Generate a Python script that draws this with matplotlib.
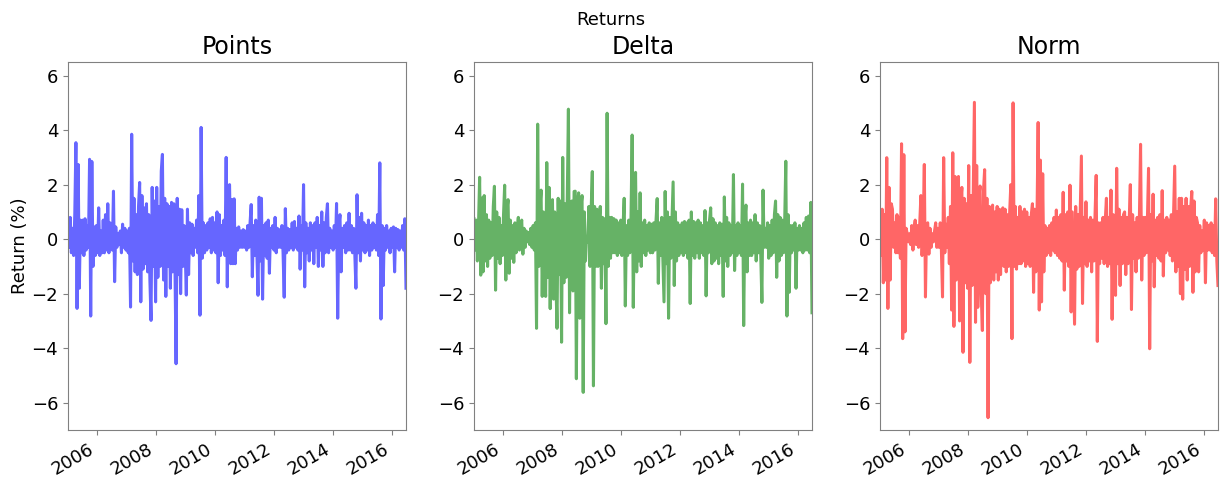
import numpy as np
import pandas as pd
import matplotlib
matplotlib.use('Agg')
import matplotlib.pyplot as plt
import matplotlib.dates as mdates

# returns (%) sampled roughly every two weeks, Jan 2005 - Jun 2016
points = [
    0.35, -0.3, 0.8, -0.5, 0.4, -0.6, 0.9, 3.54, -2.54, 2.74, -1.8, 0.7, -0.5,
    0.7, -0.6, 0.75, -0.4, 0.5, -0.3, 2.93, -2.82, 2.85, -1.0, 0.45, -0.6, 0.5,
    -0.5, 1.15, -0.6, 0.3, -0.5, 0.7, -0.5, 0.9, -0.4, 1.3, -0.5, 0.6, -0.3,
    -0.4, 1.76, -1.56, 0.45, -0.3, 0.2, -0.2, 0.3, -0.5, 0.55, -0.3, 0.4, -0.4,
    0.3, -0.5, 0.4, -2.49, 3.85, -0.8, 1.5, -1.2, 0.9, -1.3, 1.2, 2.08, -2.3,
    1.6, -1.1, 1.15, -0.9, 1.3, -1.2, 0.9, -1.5, -2.98, 1.9, -1.0, 1.4, -2.3,
    1.9, -1.4, 1.2, -1.0, 2.5, 3.11, -1.5, 1.5, -2.1, 1.3, -1.0, 1.2, -1.8,
    1.35, -1.2, 1.3, -0.9, -4.57, 1.5, -1.3, 1.1, -2.0, 1.08, -1.0, 0.5, -0.4,
    -2.05, 1.1, -1.3, 0.6, -0.5, 0.55, -0.6, 0.4, -0.3, 0.7, -0.5, 1.6, -2.79,
    4.1, -0.7, 0.6, -0.5, 0.5, -0.4, 0.6, -0.3, 0.75, -0.5, 0.8, -0.4, 0.6,
    -0.5, 1.0, -1.6, 0.9, -0.6, 0.5, -0.4, 0.7, -0.6, 3.0, -1.75, 1.9, 2.0,
    -0.9, 1.45, -0.9, 1.48, -0.9, 0.4, -0.4, 0.45, -0.3, 0.3, -0.3, 0.35, -0.3,
    0.3, -0.4, 0.5, -0.3, 0.6, 1.27, -1.38, 0.5, -0.6, 0.7, -0.5, -2.06, 1.54,
    -0.8, 1.5, -2.2, 0.5, -0.6, 0.6, -0.7, 0.7, -1.25, 0.4, -0.3, 0.5, -0.4,
    0.8, -0.5, 0.4, -0.3, 0.35, -0.3, 0.5, -0.5, -2.13, 1.12, -0.5, 0.4, -0.4,
    0.35, -0.3, 0.6, -0.4, 0.65, -0.3, 0.4, -0.4, 0.85, -1.1, 0.5, -0.4, 2.0,
    -1.75, 0.6, -0.5, 0.4, -0.8, 0.6, -0.4, 0.5, -0.9, 0.6, -0.3, 0.8, -1.0,
    0.5, -0.4, 1.0, -1.0, 0.6, -0.5, 0.8, 1.3, -0.5, 0.4, -0.3, 0.3, -0.4,
    0.5, -0.3, 1.31, -2.9, 0.5, 0.9, -1.2, 0.4, -0.3, 0.5, -0.5, 0.6, -0.4,
    0.95, -0.4, 0.5, -0.5, 0.4, -0.5, -1.8, 1.63, -0.5, 0.8, -0.8, 0.95, -0.4,
    0.6, -0.5, 0.5, -0.4, 0.7, -0.6, 0.5, -0.4, 0.6, -0.3, 0.5, -0.4, 0.9,
    -0.6, 2.8, -2.93, 0.5, -1.7, 0.4, -0.4, 0.5, -0.3, 0.3, -0.5, 0.4, -0.3,
    0.45, -1.2, 0.4, -0.3, 0.35, -0.4, 0.3, -0.3, 0.5, -0.4, 0.75, -1.8,
]

delta = [
    0.75, -0.4, 0.7, -0.8, 0.5, 2.27, -1.32, 1.51, -1.2, 1.6, -0.8, 0.9, -1.0,
    0.7, -0.7, 0.6, -0.6, 1.2, 1.94, -1.87, 1.0, -0.7, 0.8, -0.9, 0.5, -0.6,
    0.9, 1.98, -1.5, 1.1, 1.45, -1.25, 0.7, -0.7, 0.5, -0.85, 0.6, -0.5, 0.4,
    0.8, -0.4, 0.5, 0.7, -0.55, 0.4, -0.3, 0.3, -0.1, 0.25, -0.2, 0.4, -0.3,
    0.5, -0.4, 0.6, -3.27, 4.22, -1.0, 1.2, 1.8, -2.1, 1.0, -1.2, -2.1, 2.81,
    -1.4, 1.9, -2.55, 1.2, 1.45, -2.2, 1.0, -1.5, -3.27, 1.5, -1.3, 1.4, -3.78,
    3.0, -1.6, 1.3, -1.4, 1.5, 4.77, -2.7, 1.3, 1.4, -1.9, 1.75, 1.76, -5.12,
    1.3, 1.7, -2.9, 1.2, 1.6, -5.62, 1.0, -0.8, 0.1, -0.1, 1.2, -1.0, 1.1,
    2.48, -5.38, 1.2, -1.0, 1.1, -1.0, 0.8, 1.2, -1.8, 0.8, -0.9, 0.75, -3.1,
    4.62, -1.0, 0.8, -0.7, 0.8, -0.5, 0.75, -0.5, 0.7, -0.6, 0.6, -0.5, 0.7,
    -0.6, 0.5, 1.5, -2.45, 0.5, -0.6, 0.7, -0.5, 0.8, 3.82, -2.5, 1.0, 2.45,
    -1.2, 1.0, -0.8, 1.7, -1.0, 0.6, -0.5, 0.7, -0.6, 0.5, -0.4, 0.6, -0.5,
    0.55, -0.5, 0.6, -0.4, 0.7, 1.49, -1.62, 0.6, -0.6, 0.8, -0.7, -2.3, 1.75,
    -0.9, 1.0, -2.9, 0.8, -0.7, 0.7, 2.1, -1.7, 1.0, -0.8, 0.6, -0.6, 0.5,
    -0.5, 0.6, -0.6, 0.65, -0.5, 0.6, -0.7, 0.7, -2.36, 1.0, -0.6, 0.65, -0.7,
    0.6, -0.5, 0.7, -0.7, 0.6, -0.5, 0.5, -0.6, 1.05, -2.08, 0.6, -0.5, 0.7,
    1.15, -0.9, 0.75, -0.8, 0.6, -0.7, 0.5, -0.9, 0.6, -0.6, 0.55, -2.1, 1.55,
    -0.8, 0.8, -1.0, 0.6, -0.6, 0.5, -0.5, 2.37, -1.15, 0.5, -0.6, 0.6, -0.5,
    0.5, -0.6, 2.02, -3.17, 0.7, 1.25, -1.2, 0.6, -0.6, 0.7, -0.6, 0.6, -0.5,
    0.9, -0.8, 0.6, -0.5, 0.5, -0.6, -2.32, 1.8, -0.3, 0.4, -0.3, 0.6, -0.7,
    0.5, -0.6, 0.7, -0.5, 0.9, 1.4, -1.4, 0.9, -0.8, 0.8, -0.6, 0.7, -0.5,
    0.6, 2.86, -2.82, 0.9, -1.95, 0.5, -0.5, 0.5, -0.4, 0.6, -1.8, 0.4, -0.4,
    0.5, -0.4, 0.4, -0.5, 0.6, -0.4, 0.8, -0.4, 0.85, -0.5, 1.35, -2.7,
]

norm = [
    1.0, -0.6, 1.1, -1.6, 0.9, -1.5, 2.99, -2.54, 1.9, -1.5, 1.3, 1.1, -0.3,
    0.6, -0.5, 0.9, -0.5, 0.8, -0.7, 3.5, -3.65, 3.1, -3.4, 0.4, 0.2, -0.1,
    0.2, -0.2, 0.5, -0.4, 0.4, 0.7, -0.2, 0.5, -0.3, 0.6, 1.6, -0.6, 0.5,
    2.74, -2.12, 0.5, 0.6, -0.55, 0.4, -0.3, 0.2, -0.1, 0.3, 0.6, -0.3, 0.4,
    -0.3, 0.6, -0.4, -2.12, 2.99, -0.5, 0.55, -0.3, 0.8, -0.9, 1.2, -2.6, 3.17,
    -3.2, 2.3, -1.5, 1.6, 2.3, -3.0, 1.4, 1.9, -4.15, 1.5, -1.6, 1.3, -1.8,
    2.7, -4.52, 1.6, -1.7, 1.8, 5.02, -3.05, 2.7, -2.5, 1.6, 1.95, -2.0, -3.35,
    1.8, 2.55, -2.0, 1.5, -6.55, 1.2, -1.6, 1.1, 1.25, -1.5, 1.0, -1.2, 1.2,
    -1.5, 1.1, -1.3, 1.0, 1.15, -1.0, 1.1, -1.2, 0.9, -1.0, 1.0, 2.0, -3.65,
    5.0, -1.0, 1.2, -1.1, 0.8, -0.9, 1.2, -0.9, 1.0, -0.8, 1.1, -1.0, 1.0,
    -0.9, 0.8, -1.0, 0.9, 1.3, -1.95, 1.1, -1.2, 0.8, 4.28, -2.6, 2.9, -2.3,
    2.4, -1.2, 0.5, -0.6, 0.4, -0.5, 0.5, -0.6, 0.6, -0.4, 0.8, -0.5, 1.07,
    -0.6, 0.8, -0.7, 0.9, -0.8, 1.72, -1.87, 0.9, -0.8, 1.0, -1.0, 1.98, -2.67,
    1.0, -1.0, -3.12, 1.2, -1.1, 0.9, -1.0, 1.0, 3.05, -2.36, 0.8, -0.9, 1.37,
    -1.0, 0.7, -0.8, 0.8, -1.2, 0.7, -0.8, 0.9, 2.34, -3.75, 0.6, -0.9, 0.6,
    -0.7, 0.8, -0.9, 0.7, 1.5, -1.0, 0.8, -0.9, 1.8, -2.94, 0.9, -0.8, -2.06,
    2.6, -0.9, 1.1, -1.7, 0.8, -0.9, 0.9, 1.0, -1.3, 0.8, -0.9, 0.7, 2.0,
    -2.58, 0.9, -0.7, 0.6, -1.2, 0.8, -0.7, 0.9, 3.48, -1.5, 0.8, -0.6, 0.8,
    -0.5, 0.7, 2.6, -4.02, 0.9, -0.8, 1.65, -1.75, 0.7, -0.6, 0.8, -0.7, 0.9,
    -0.8, 1.78, -1.35, 0.7, -0.5, 0.8, -0.4, 0.7, -0.6, 0.9, -0.8, 1.0, 2.68,
    -1.2, 1.0, -1.0, 1.5, -2.0, 1.5, -2.2, 1.2, -1.1, 1.5, -1.5, 1.2, -1.0,
    1.1, 1.75, -1.95, 1.4, -1.2, 0.8, 0.6, -1.2, 0.5, -0.5, 0.3, -0.4, 0.7,
    -1.6, 0.6, -0.4, 0.5, -0.4, 0.6, -0.5, 0.5, -0.6, 1.48, -0.8, -1.7,
]

titles = ['Points', 'Delta', 'Norm']
colors = ['b', 'g', 'r']
series = [points, delta, norm]

dates = pd.date_range('2005-01-10', '2016-06-24', periods=len(points))

fig, axs = plt.subplots(1, 3, sharey=True, figsize=(12.22, 4.79), dpi=100)
plt.subplots_adjust(left=0.0556, right=0.9967, bottom=0.1023, top=0.8706, wspace=0.201)

for ax, vals, title, c in zip(axs, series, titles, colors):
    ax.plot(dates, vals, color=c, alpha=0.6, lw=2.2)
    ax.set_title(title, fontsize=17)
    ax.set_xlim(dates[0], dates[-1])
    ax.xaxis.set_major_locator(mdates.YearLocator(2))
    ax.xaxis.set_major_formatter(mdates.DateFormatter('%Y'))
    ax.tick_params(labelsize=13, color='0.5')
    ax.yaxis.set_tick_params(labelleft=True)
    for lab in ax.get_xticklabels():
        lab.set_rotation(30)
        lab.set_ha('right')
    for sp in ax.spines.values():
        sp.set_color('0.5')

axs[0].set_ylim(-7.0, 6.5)
axs[0].set_yticks([-6, -4, -2, 0, 2, 4, 6])
axs[0].set_ylabel('Return (%)', fontsize=13, labelpad=2)
fig.suptitle('Returns', fontsize=13, y=0.978)

fig.savefig('out.png', dpi=100)
